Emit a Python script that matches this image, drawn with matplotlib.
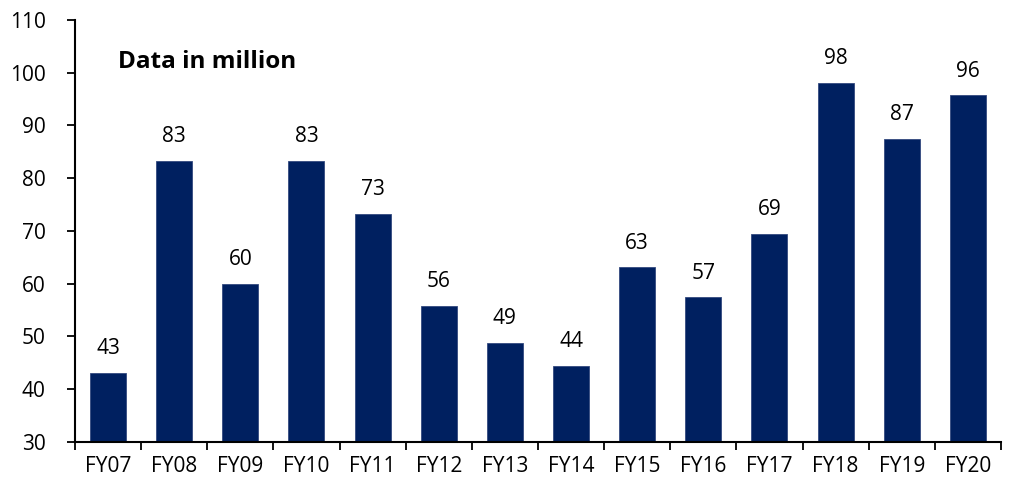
import matplotlib
matplotlib.use("Agg")
import matplotlib.pyplot as plt
from matplotlib.ticker import FixedLocator, NullFormatter

plt.rcParams['font.family'] = ['Open Sans', 'DejaVu Sans']

years = ["FY07", "FY08", "FY09", "FY10", "FY11", "FY12", "FY13",
         "FY14", "FY15", "FY16", "FY17", "FY18", "FY19", "FY20"]
values = [43.1, 83.2, 60.0, 83.2, 73.2, 55.8, 48.7,
          44.4, 63.1, 57.4, 69.4, 98.0, 87.4, 95.7]
yticks = [30, 40, 50, 60, 70, 80, 90, 100, 110]

fig = plt.figure(figsize=(10.09, 4.83), dpi=100)
ax = fig.add_axes([0.0743, 0.0849, 0.9177, 0.8737])

x = list(range(len(years)))
ax.bar(x, values, width=0.545, color="#002060", edgecolor="#33497f",
       linewidth=0.6, zorder=2)

for xi, v in zip(x, values):
    ax.annotate(f"{v:.0f}", (xi, v), xytext=(0, 10), textcoords="offset points",
                ha="center", va="bottom", fontsize=15, color="black")

ax.set_ylim(30, 110)
ax.set_xlim(-0.5, len(years) - 0.5)
ax.set_yticks(yticks)
ax.set_xticks(x)
ax.set_xticklabels(years)
ax.xaxis.set_minor_locator(FixedLocator([i - 0.5 for i in range(len(years) + 1)]))
ax.xaxis.set_minor_formatter(NullFormatter())

ax.tick_params(axis="x", which="major", length=0, labelsize=15, pad=10)
ax.tick_params(axis="x", which="minor", length=6, width=1.3, direction="out")
ax.tick_params(axis="y", length=6, width=1.3, labelsize=15, pad=15)

for side in ("top", "right"):
    ax.spines[side].set_visible(False)
for side in ("left", "bottom"):
    ax.spines[side].set_linewidth(1.5)

ax.text(0.046, 0.887, "Data in million", transform=ax.transAxes,
        fontsize=17.5, fontweight="bold", ha="left", va="baseline")

fig.savefig("out.png", dpi=100)
